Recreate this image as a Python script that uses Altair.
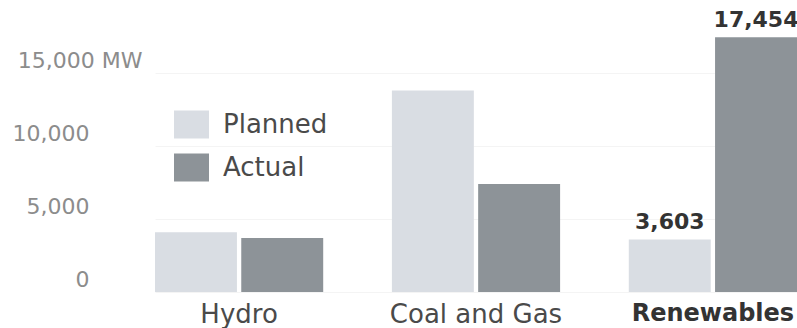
import altair as alt
import pandas as pd

# Generating capacity, planned vs. actual (MW)
categories = ["Hydro", "Coal and Gas", "Renewables"]
series = ["Planned", "Actual"]
planned_mw = [4100, 13800, 3603]
actual_mw = [3700, 7400, 17454]
y_ticks = [0, 5000, 10000, 15000]

rows = []
for cat, p, a in zip(categories, planned_mw, actual_mw):
    rows.append({"category": cat, "series": "Planned", "mw": p})
    rows.append({"category": cat, "series": "Actual", "mw": a})
df = pd.DataFrame(rows)

FONT = "DejaVu Sans"

x_enc = alt.X(
    "category:N",
    sort=categories,
    title=None,
    scale=alt.Scale(paddingInner=0.29, paddingOuter=0),
    axis=alt.Axis(
        labelAngle=0,
        ticks=False,
        domain=False,
        grid=False,
        labelPadding=9,
        labelFont=FONT,
        labelFontSize={"condition": {"test": "datum.value == 'Renewables'", "value": 24}, "value": 26},
        labelFontWeight={"condition": {"test": "datum.value == 'Renewables'", "value": "bold"}, "value": "normal"},
        labelColor={"condition": {"test": "datum.value == 'Renewables'", "value": "#333333"}, "value": "#4a4a4a"},
    ),
)
xoff_enc = alt.XOffset("series:N", sort=series, scale=alt.Scale(paddingInner=0.05))

y_enc = alt.Y(
    "mw:Q",
    title=None,
    scale=alt.Scale(domain=[0, 20000], nice=False),
    axis=alt.Axis(
        values=y_ticks,
        format=",.0f",
        labelExpr="datum.value == 15000 ? datum.label + ' MW' : datum.label",
        ticks=False,
        domain=False,
        grid=True,
        gridColor="#f4f4f4",
        labelFont=FONT,
        labelFontSize=22,
        labelColor="#8c8c8c",
        labelAlign="right",
        labelBaseline="alphabetic",
        labelOffset=-6,
        labelPadding={"condition": {"test": "datum.value == 15000", "value": 13}, "value": 66},
    ),
)

bars = alt.Chart(df).mark_bar().encode(
    x=x_enc,
    xOffset=xoff_enc,
    y=y_enc,
    color=alt.Color(
        "series:N",
        sort=series,
        scale=alt.Scale(domain=series, range=["#d9dde3", "#8d9398"]),
        legend=alt.Legend(
            title=None,
            orient="none",
            legendX=19,
            legendY=107,
            padding=0,
            symbolType="M-1,-0.8H1V0.8H-1Z",
            symbolSize=1225,
            symbolStrokeWidth=0,
            symbolOpacity=1,
            rowPadding=11,
            labelOffset=14,
            labelFont=FONT,
            labelFontSize=26,
            labelColor="#4a4a4a",
        ),
    ),
)

labels = alt.Chart(df).transform_filter(
    alt.datum.category == "Renewables"
).mark_text(
    font=FONT, fontSize=22, fontWeight="bold", color="#333333",
    baseline="bottom", dy=-5,
).encode(
    x=alt.X("category:N", sort=categories),
    xOffset=alt.XOffset("series:N", sort=series),
    y=alt.Y("mw:Q"),
    text=alt.Text("mw:Q", format=",.0f"),
)

chart = (
    alt.layer(bars, labels)
    .properties(
        width=642,
        height=292,
        autosize=alt.AutoSizeParams(type="none"),
        padding={"left": 155, "top": 0, "right": 0, "bottom": 36},
        view=alt.ViewBackground(stroke="#ffffff", strokeOpacity=0, strokeWidth=0),
    )
    .configure_view(stroke="#ffffff", strokeOpacity=0, strokeWidth=0)
    .configure(background="white")
)

chart.save("out.html", embed_options={"renderer": "svg", "actions": False})
